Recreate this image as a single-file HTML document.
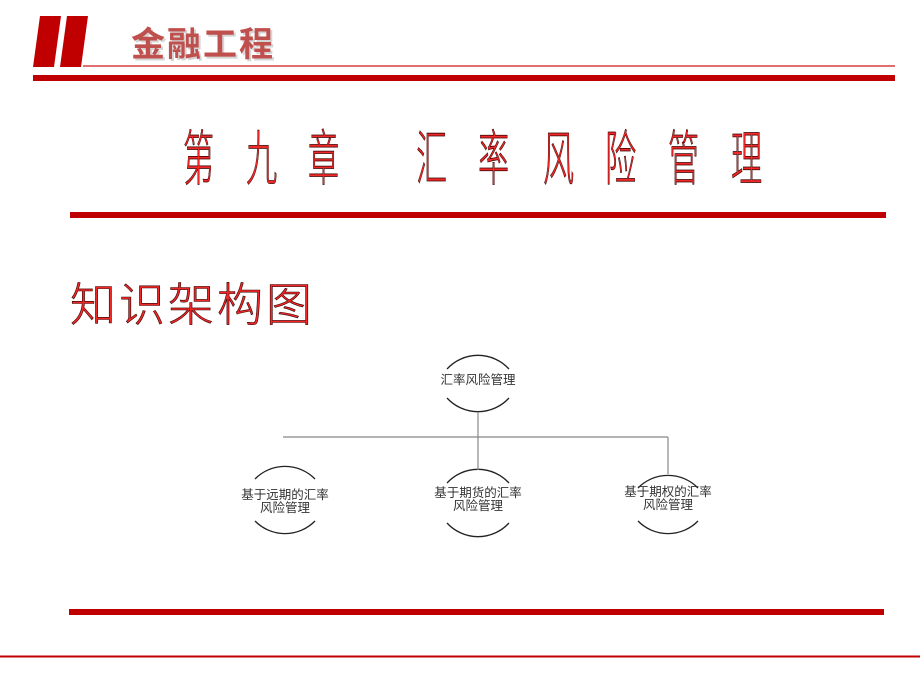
<!DOCTYPE html>
<html><head><meta charset="utf-8"><style>
html,body{margin:0;padding:0;background:#fff;width:920px;height:690px;overflow:hidden}
svg{display:block}
text{font-family:"Liberation Sans","Noto Sans CJK SC",sans-serif}
</style></head><body>
<svg width="920" height="690" viewBox="0 0 920 690" xmlns="http://www.w3.org/2000/svg">
<polygon points="40,16 61,16 54,67 33,67" fill="#c00000"/>
<polygon points="67,16 88,16 81,67 60,67" fill="#c00000"/>
<rect x="83" y="65" width="812" height="2" fill="#e07070"/>
<rect x="33" y="75" width="862" height="6" fill="#c00000"/>
<text x="133" y="58" font-size="34" font-weight="bold" fill="#777" opacity="0.3" letter-spacing="2">金融工程</text>
<text x="131" y="56" font-size="34" font-weight="bold" fill="#c0504d" letter-spacing="2">金融工程</text>
<g fill="#f02828" stroke="#300" stroke-width="0.5" font-size="40" font-weight="300">
<text transform="translate(183,180) scale(0.78,1.5)">第</text>
<text transform="translate(246,180) scale(0.78,1.5)">九</text>
<text transform="translate(308,180) scale(0.78,1.5)">章</text>
<text transform="translate(416,180) scale(0.78,1.5)">汇</text>
<text transform="translate(478,180) scale(0.78,1.5)">率</text>
<text transform="translate(543,180) scale(0.78,1.5)">风</text>
<text transform="translate(605,180) scale(0.78,1.5)">险</text>
<text transform="translate(668,180) scale(0.78,1.5)">管</text>
<text transform="translate(731,180) scale(0.78,1.5)">理</text>
</g>
<rect x="70" y="212" width="816" height="6" fill="#c00000"/>
<text x="70" y="321" font-size="46" font-weight="300" fill="#f02828" stroke="#300" stroke-width="0.6" letter-spacing="3">知识架构图</text>
<g fill="none" stroke="#222" stroke-width="1.3">
<path d="M447,369 A42,42 0 0 1 509,369"/>
<path d="M447,398 A42,42 0 0 0 509,398"/>
<path d="M255,479 A42,42 0 0 1 315,479"/>
<path d="M255,521 A42,42 0 0 0 315,521"/>
<path d="M447,483 A42,42 0 0 1 509,483"/>
<path d="M447,523 A42,42 0 0 0 509,523"/>
<path d="M638,488 A42,42 0 0 1 698,488"/>
<path d="M638,521 A42,42 0 0 0 698,521"/>
</g>
<g stroke="#888" stroke-width="1.2" fill="none">
<line x1="478" y1="412" x2="478" y2="470"/>
<line x1="283" y1="437" x2="668" y2="437"/>
<line x1="668" y1="437" x2="668" y2="474"/>
</g>
<g font-size="12.5" fill="#333" text-anchor="middle">
<text x="478" y="384">汇率风险管理</text>
<text x="285" y="499">基于远期的汇率</text><text x="285" y="512">风险管理</text>
<text x="478" y="497">基于期货的汇率</text><text x="478" y="510">风险管理</text>
<text x="668" y="496">基于期权的汇率</text><text x="668" y="509">风险管理</text>
</g>
<rect x="69" y="609" width="815" height="6" fill="#c00000"/>
<rect x="0" y="655" width="920" height="1" fill="#e08080"/>
<rect x="0" y="656" width="920" height="1.5" fill="#c00000"/>
</svg>
</body></html>
